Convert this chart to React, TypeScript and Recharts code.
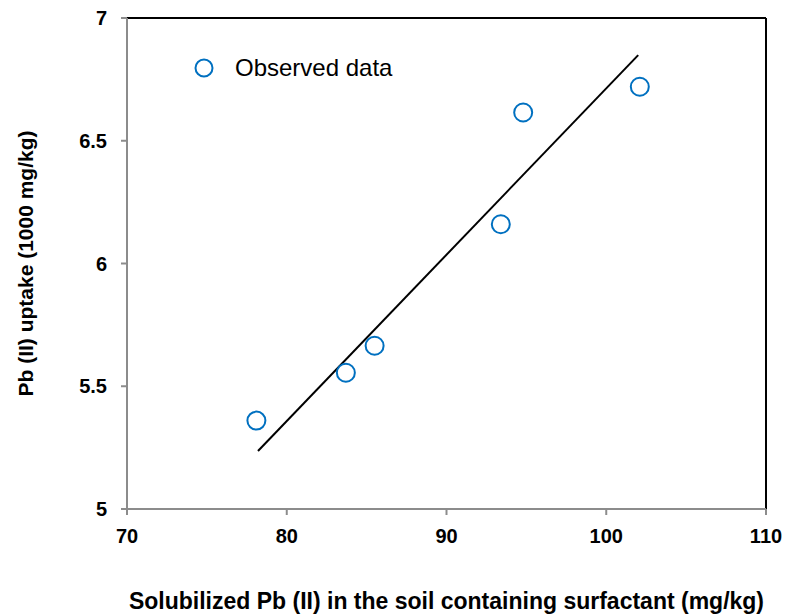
import {
  ScatterChart,
  Scatter,
  XAxis,
  YAxis,
  ReferenceLine,
  Legend,
} from "recharts";

// ---------------------------------------------------------------------------
// Data
// ---------------------------------------------------------------------------

const solubilized = [78.1, 83.7, 85.5, 93.4, 94.8, 102.1];
const uptake = [5.36, 5.555, 5.665, 6.16, 6.615, 6.72];

// endpoints of the fitted line
const fitX = [78.2, 102.0];
const fitY = [5.236, 6.849];

const xTicks = [70, 80, 90, 100, 110];
const yTicks = [5, 5.5, 6, 6.5, 7];

const observed = solubilized.map((x, i) => ({ x, y: uptake[i] }));

const BLUE = "#0070C0";
const AXIS_GREY = "#8c8c8c";
const FONT = "'Liberation Sans', Arial, sans-serif";

const tickStyle = { fontSize: 20, fontWeight: 700, fill: "#000", fontFamily: FONT };

function Marker(props: { cx?: number; cy?: number }) {
  const { cx = 0, cy = 0 } = props;
  return <circle cx={cx} cy={cy} r={9} fill="#fff" stroke={BLUE} strokeWidth={2} />;
}

function LegendBox() {
  return (
    <div style={{ display: "flex", alignItems: "center", fontFamily: FONT }}>
      <svg width={24} height={24}>
        <circle cx={12} cy={12} r={8.5} fill="#fff" stroke={BLUE} strokeWidth={2} />
      </svg>
      <span style={{ marginLeft: 19, fontSize: 24, color: "#000", lineHeight: "28px" }}>
        Observed data
      </span>
    </div>
  );
}

export default function App() {
  return (
    <div style={{ position: "absolute", left: 0, top: 0, background: "#fff" }}>
      <ScatterChart
        width={789}
        height={615}
        margin={{ top: 18, right: 23, bottom: 0, left: 0 }}
      >
        <XAxis
          type="number"
          dataKey="x"
          domain={[70, 110]}
          ticks={xTicks}
          tick={tickStyle}
          tickSize={6}
          tickMargin={14}
          height={106}
          stroke={AXIS_GREY}
          strokeWidth={2}
          label={{
            value: "Solubilized Pb (II) in the soil containing surfactant (mg/kg)",
            position: "insideBottom",
            offset: 6,
            style: { fontSize: 23, fontWeight: 700, fill: "#000", fontFamily: FONT },
          }}
        />
        <YAxis
          type="number"
          dataKey="y"
          domain={[5, 7]}
          ticks={yTicks}
          tick={tickStyle}
          tickSize={6}
          tickMargin={14}
          width={127}
          stroke={AXIS_GREY}
          strokeWidth={2}
          label={{
            value: "Pb (II) uptake (1000 mg/kg)",
            angle: -90,
            position: "center",
            dx: -38,
            style: { fontSize: 21, fontWeight: 700, fill: "#000", fontFamily: FONT },
          }}
        />
        {/* centred + middle keeps the legend out of the plot offset */}
        <Legend
          layout="horizontal"
          verticalAlign="middle"
          align="center"
          wrapperStyle={{ left: 192, top: 54, width: "auto" }}
          content={() => <LegendBox />}
        />
        {/* black frame on the top and right */}
        <ReferenceLine y={7} stroke="#000" strokeWidth={2} />
        <ReferenceLine x={110} stroke="#000" strokeWidth={2} />
        <ReferenceLine
          segment={[
            { x: fitX[0], y: fitY[0] },
            { x: fitX[1], y: fitY[1] },
          ]}
          stroke="#000"
          strokeWidth={2}
        />
        <Scatter
          name="Observed data"
          data={observed}
          shape={<Marker />}
          isAnimationActive={false}
        />
      </ScatterChart>
    </div>
  );
}
